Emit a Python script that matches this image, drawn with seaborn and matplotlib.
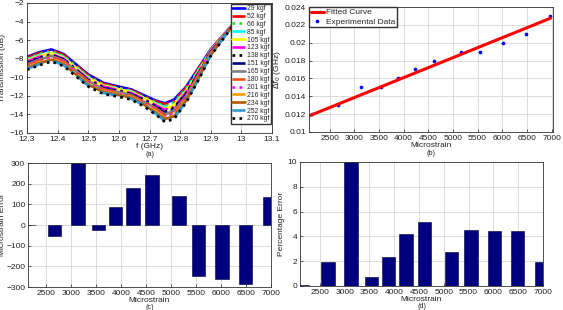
import numpy as np
import pandas as pd
import matplotlib
matplotlib.use("Agg")
import matplotlib.pyplot as plt
import seaborn as sns
from matplotlib.ticker import FuncFormatter, MultipleLocator

# (a) transmission spectra for each load
freq_ghz = [12.30, 12.34, 12.38, 12.42, 12.46, 12.50, 12.55, 12.60, 12.64,
            12.68, 12.72, 12.75, 12.78, 12.82, 12.86, 12.90, 12.94, 12.98]
load_labels = ["29 kgf", "52 kgf", "66 kgf", "85 kgf", "105 kgf", "123 kgf", "138 kgf",
               "151 kgf", "165 kgf", "180 kgf", "201 kgf", "216 kgf", "234 kgf",
               "252 kgf", "270 kgf"]
t029 = [-7.8, -7.3, -7.0, -7.5, -8.6, -9.7, -10.6, -11.0, -11.3, -11.9, -12.5, -12.8, -12.4, -11.0, -9.0, -7.0, -5.5, -4.0]
t052 = [-7.9, -7.4, -7.1, -7.6, -8.7, -9.8, -10.7, -11.1, -11.4, -12.0, -12.6, -12.9, -12.6, -11.1, -9.1, -7.0, -5.5, -4.0]
t066 = [-8.0, -7.5, -7.2, -7.7, -8.8, -9.9, -10.8, -11.2, -11.5, -12.1, -12.7, -13.1, -12.7, -11.2, -9.2, -7.1, -5.6, -4.0]
t085 = [-8.1, -7.6, -7.3, -7.8, -8.9, -10.0, -10.9, -11.2, -11.5, -12.2, -12.8, -13.2, -12.9, -11.4, -9.3, -7.1, -5.6, -4.0]
t105 = [-8.2, -7.7, -7.4, -7.9, -9.0, -10.1, -10.9, -11.3, -11.6, -12.2, -12.9, -13.4, -13.0, -11.5, -9.4, -7.2, -5.6, -4.0]
t123 = [-8.3, -7.8, -7.5, -8.0, -9.1, -10.2, -11.0, -11.4, -11.7, -12.3, -13.0, -13.5, -13.2, -11.6, -9.5, -7.2, -5.6, -4.0]
t138 = [-8.4, -7.9, -7.6, -8.1, -9.2, -10.3, -11.1, -11.5, -11.8, -12.4, -13.1, -13.7, -13.3, -11.7, -9.6, -7.3, -5.7, -4.0]
t151 = [-8.5, -8.0, -7.6, -8.1, -9.2, -10.3, -11.2, -11.5, -11.8, -12.5, -13.2, -13.8, -13.5, -11.8, -9.6, -7.3, -5.7, -4.1]
t165 = [-8.6, -8.1, -7.7, -8.2, -9.3, -10.4, -11.3, -11.6, -11.9, -12.6, -13.3, -14.0, -13.6, -12.0, -9.7, -7.4, -5.7, -4.1]
t180 = [-8.7, -8.2, -7.8, -8.3, -9.4, -10.5, -11.3, -11.7, -12.0, -12.6, -13.4, -14.1, -13.8, -12.1, -9.8, -7.4, -5.7, -4.1]
t201 = [-8.8, -8.3, -7.9, -8.4, -9.5, -10.6, -11.4, -11.8, -12.1, -12.7, -13.5, -14.3, -13.9, -12.2, -9.9, -7.5, -5.8, -4.1]
t216 = [-8.9, -8.4, -8.0, -8.5, -9.6, -10.7, -11.5, -11.8, -12.1, -12.8, -13.6, -14.4, -14.1, -12.3, -10.0, -7.5, -5.8, -4.1]
t234 = [-9.0, -8.5, -8.1, -8.6, -9.7, -10.8, -11.6, -11.9, -12.2, -12.9, -13.8, -14.5, -14.2, -12.5, -10.1, -7.6, -5.8, -4.1]
t252 = [-9.1, -8.6, -8.2, -8.7, -9.8, -10.9, -11.7, -12.0, -12.3, -13.0, -13.9, -14.7, -14.4, -12.6, -10.2, -7.6, -5.8, -4.1]
t270 = [-9.2, -8.7, -8.3, -8.8, -9.9, -11.0, -11.8, -12.1, -12.4, -13.1, -14.0, -14.8, -14.5, -12.7, -10.3, -7.7, -5.9, -4.1]
curves = [t029, t052, t066, t085, t105, t123, t138, t151, t165, t180, t201, t216, t234, t252, t270]

# (b) shift vs strain + fitted line
strain = [2150, 2660, 3130, 3540, 3880, 4240, 4610, 5160, 5550, 6020, 6490, 6970]
delta_f0 = [0.012, 0.013, 0.015, 0.015, 0.016, 0.017, 0.018, 0.019, 0.019, 0.020, 0.021, 0.023]
fit_strain = [2080, 6980]
fit_df0 = [0.0118, 0.02275]

# (c), (d) errors
strain_err = [-2, -53, 300, -24, 89, 177, 242, 142, -247, -261, -285, 137]
pct_err = [0.05, 1.95, 10.0, 0.7, 2.3, 4.2, 5.2, 2.75, 4.5, 4.4, 4.45, 1.97]

styles = [("#0000ff", "-"), ("#ff0000", "-."), ("#22dd22", ":"), ("#00ffff", "-."),
          ("#ffff00", "-"), ("#ff00ff", "-."), ("#000000", ":"), ("#000080", "-."),
          ("#808080", "-"), ("#e6501a", "-."), ("#ff00ff", ":"), ("#ff9900", "-."),
          ("#b35900", "-"), ("#3399cc", "-."), ("#000000", ":")]

sns.set_theme(style="whitegrid", rc={
    "grid.color": "#d6d6d6", "grid.linewidth": 0.6,
    "axes.edgecolor": "#333333", "axes.linewidth": 0.6,
    "xtick.direction": "in", "ytick.direction": "in",
    "xtick.major.size": 2, "ytick.major.size": 2,
    "xtick.major.pad": 2, "ytick.major.pad": 2,
    "xtick.bottom": True, "ytick.left": True,
})
plt.rcParams["font.family"] = ["Liberation Sans", "DejaVu Sans"]
FS = 6
TXT = "#222222"

fig = plt.figure(figsize=(5.63, 3.10), dpi=100)
W, H = 563.0, 310.0

def make_axes(l, r, t, b):
    return fig.add_axes([l / W, 1 - b / H, (r - l) / W, (b - t) / H])

ax_a = make_axes(27, 272, 3, 133)
ax_b = make_axes(309, 553, 7, 132)
ax_c = make_axes(28, 271, 163, 287)
ax_d = make_axes(300, 543, 162, 286)

gfmt = FuncFormatter(lambda v, p: "%g" % round(v, 6))

# (a)
for vals, lab, (col, ls) in zip(curves, load_labels, styles):
    sns.lineplot(x=freq_ghz, y=vals, ax=ax_a, color=col, linestyle=ls,
                 linewidth=1.9, label=lab)
ax_a.set_xlim(12.3, 13.1)
ax_a.set_ylim(-16, -2)
ax_a.xaxis.set_major_locator(MultipleLocator(0.1))
ax_a.yaxis.set_major_locator(MultipleLocator(2))
ax_a.xaxis.set_major_formatter(gfmt)
ax_a.set_ylabel("Transmission (dB)", fontsize=FS, color=TXT)
ax_a.yaxis.set_label_coords(-0.085, 0.5)
ax_a.legend(loc="upper right", fontsize=4.9, labelspacing=0.13, handlelength=1.9,
            handletextpad=0.3, borderpad=0.2, borderaxespad=0.1, fancybox=False,
            framealpha=1, edgecolor="#333333")

# (b)
sns.lineplot(x=fit_strain, y=fit_df0, ax=ax_b, color="#ff0000", linewidth=2.2,
             label="Fitted Curve")
sns.scatterplot(x=strain, y=delta_f0, ax=ax_b, color="#0000ff", s=7, linewidth=0,
                label="Experimental Data")
ax_b.set_xlim(2080, 7030)
ax_b.set_ylim(0.01, 0.024)
ax_b.xaxis.set_major_locator(MultipleLocator(500))
ax_b.yaxis.set_major_locator(MultipleLocator(0.002))
ax_b.yaxis.set_major_formatter(gfmt)
ax_b.set_ylabel(r"$\Delta f_0$ (GHz)", fontsize=FS, color=TXT)
ax_b.yaxis.set_label_coords(-0.105, 0.5)
ax_b.legend(loc="upper left", fontsize=FS, labelspacing=0.15, handlelength=1.6,
            handletextpad=0.3, borderpad=0.2, borderaxespad=0.0, fancybox=False,
            framealpha=1, edgecolor="#333333")

# (c)
sns.barplot(x=strain, y=strain_err, ax=ax_c, native_scale=True, orient="v",
            color="#00007f", saturation=1, errorbar=None, edgecolor="#000033",
            linewidth=0.4)
ax_c.set_xlim(2130, 7000)
ax_c.set_ylim(-300, 300)
ax_c.xaxis.set_major_locator(MultipleLocator(500))
ax_c.yaxis.set_major_locator(MultipleLocator(100))
ax_c.set_ylabel("Microstrain Error", fontsize=FS, color=TXT)
ax_c.yaxis.set_label_coords(-0.092, 0.5)

# (d)
sns.barplot(x=strain, y=pct_err, ax=ax_d, native_scale=True, orient="v",
            color="#00007f", saturation=1, errorbar=None, edgecolor="#000033",
            linewidth=0.4)
ax_d.set_xlim(2100, 7000)
ax_d.set_ylim(0, 10)
ax_d.xaxis.set_major_locator(MultipleLocator(500))
ax_d.yaxis.set_major_locator(MultipleLocator(2))
ax_d.set_ylabel("Percentage Error", fontsize=FS, color=TXT)
ax_d.yaxis.set_label_coords(-0.06, 0.5)

for ax in (ax_a, ax_b, ax_c, ax_d):
    ax.tick_params(labelsize=FS, colors=TXT, width=0.5)
    ax.grid(True)
    ax.set_axisbelow(True)
    for s in ax.spines.values():
        s.set_visible(True)
        s.set_color("#333333")
        s.set_linewidth(0.6)

# x labels and panel tags placed in figure pixels
for ax, xl, ylab, tag, ytag in ((ax_a, "f (GHz)", 146, "(a)", 154),
                                (ax_b, "Microstrain", 145.5, "(b)", 153.5),
                                (ax_c, "Microstrain", 300.5, "(c)", 307.5),
                                (ax_d, "Microstrain", 299.5, "(d)", 307)):
    pos = ax.get_position()
    xc = pos.x0 + pos.width / 2
    fig.text(xc, 1 - ylab / H, xl, ha="center", va="center", fontsize=FS, color=TXT)
    fig.text(xc, 1 - ytag / H, tag, ha="center", va="center", fontsize=5.2, color=TXT)

fig.savefig("out.png", dpi=100, facecolor="white")
